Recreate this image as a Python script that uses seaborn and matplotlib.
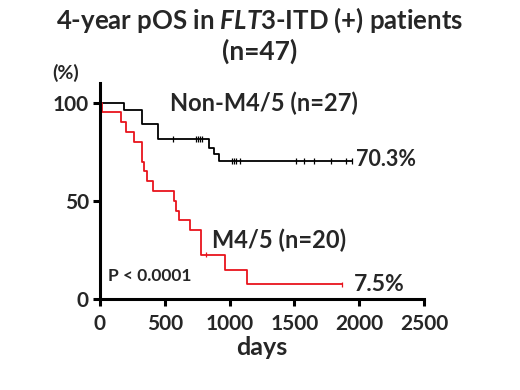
import pandas as pd
import numpy as np
import matplotlib
matplotlib.use("Agg")
import matplotlib.pyplot as plt
import seaborn as sns

# Kaplan-Meier steps (days, survival %)
non_days = [0, 187, 326, 450, 843, 880, 920, 1941]
non_surv = [100, 96.3, 88.9, 81.5, 77.0, 74.0, 70.3, 70.3]
non_cens_days = [560, 740, 755, 770, 785, 1015, 1035, 1050, 1080, 1509, 1573, 1650, 1779, 1902, 1941]

m45_days = [0, 13, 162, 200, 264, 326, 339, 360, 411, 573, 590, 611, 694, 779, 964, 1131, 1871]
m45_surv = [100, 95, 90, 85, 80, 70, 65, 60, 55, 50, 45, 40, 35, 22.5, 15, 7.5, 7.5]
m45_cens_days = [816, 1871]

x_ticks = [0, 500, 1000, 1500, 2000, 2500]
y_ticks = [0, 50, 100]


def surv_at(days, surv, t):
    idx = np.searchsorted(days, t, side="right") - 1
    return surv[idx]


sns.set_theme(style="ticks")
plt.rcParams["font.family"] = ["Lato", "DejaVu Sans"]
plt.rcParams["font.weight"] = "bold"
plt.rcParams["mathtext.fontset"] = "custom"
plt.rcParams["mathtext.rm"] = "Lato:bold"
plt.rcParams["mathtext.it"] = "Lato:italic:bold"

df = pd.concat([
    pd.DataFrame({"days": non_days, "surv": non_surv, "group": "Non-M4/5"}),
    pd.DataFrame({"days": m45_days, "surv": m45_surv, "group": "M4/5"}),
])
cens = pd.concat([
    pd.DataFrame({"days": non_cens_days,
                  "surv": [surv_at(non_days, non_surv, d) for d in non_cens_days],
                  "group": "Non-M4/5"}),
    pd.DataFrame({"days": m45_cens_days,
                  "surv": [surv_at(m45_days, m45_surv, d) for d in m45_cens_days],
                  "group": "M4/5"}),
])
pal = {"Non-M4/5": "black", "M4/5": "#e8141c"}

fig = plt.figure(figsize=(5.2, 3.9), dpi=100)
ax = fig.add_axes([0.1923, 0.2333, 0.623, 0.5538])

sns.lineplot(data=df, x="days", y="surv", hue="group", palette=pal,
             drawstyle="steps-post", linewidth=1.3, legend=False, ax=ax,
             estimator=None, sort=False)
sns.scatterplot(data=cens, x="days", y="surv", hue="group", palette=pal,
                marker="|", s=14, linewidth=0.9, legend=False, ax=ax)

ax.set_xlim(0, 2500)
ax.set_ylim(0, 110)
ax.set_xticks(x_ticks)
ax.set_yticks(y_ticks)
ax.tick_params(width=2.2, length=5, labelsize=15, pad=3, color="black")
ax.tick_params(axis="x", pad=6)
for lab in ax.get_xticklabels() + ax.get_yticklabels():
    lab.set_fontweight("bold")
sns.despine(ax=ax)
for s in ["left", "bottom"]:
    ax.spines[s].set_linewidth(2.2)
    ax.spines[s].set_color("black")
ax.set_xlabel("days", fontsize=18, fontweight="bold", labelpad=1)
ax.set_ylabel("")

ax.text(540, 99.8, "Non-M4/5 (n=27)", fontsize=17, fontweight="bold", va="center")
ax.text(1974, 70.8, "70.3%", fontsize=15.5, fontweight="bold", va="center")
ax.text(864, 30, "M4/5 (n=20)", fontsize=17, fontweight="bold", va="center")
ax.text(1958, 7.6, "7.5%", fontsize=16.5, fontweight="bold", va="center")
ax.text(62, 11.7, "P < 0.0001", fontsize=12.5, fontweight="bold", va="center")

fig.text(0.5, 1 - 20 / 390, r"4-year pOS in $\mathit{FLT3}$-ITD (+) patients",
         ha="center", va="center", fontsize=18.5, fontweight="bold")
fig.text(0.5, 1 - 51 / 390, "(n=47)", ha="center", va="center",
         fontsize=19, fontweight="bold")
fig.text(66 / 520, 1 - 73 / 390, "(%)", ha="center", va="center",
         fontsize=14, fontweight="bold")

fig.savefig("out.png", dpi=100)
